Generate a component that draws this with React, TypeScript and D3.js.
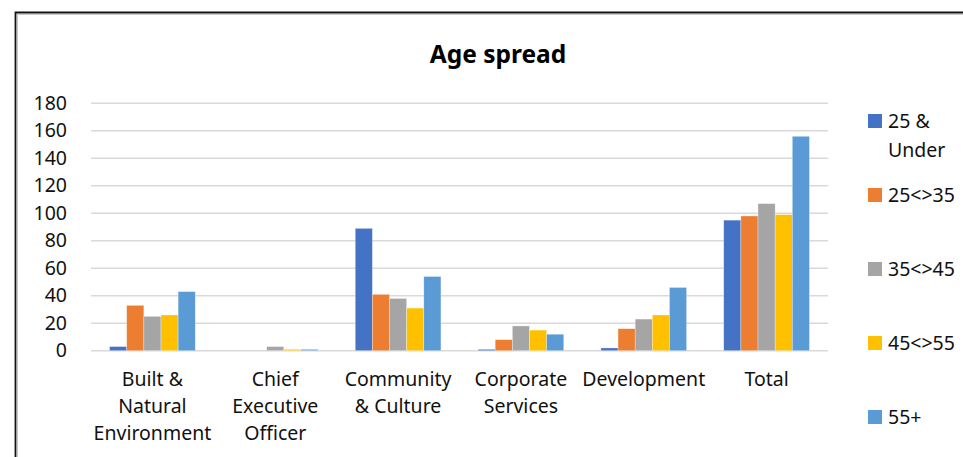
import React from "react";
import * as d3 from "d3";

const categories = [
  "Built & Natural Environment",
  "Chief Executive Officer",
  "Community & Culture",
  "Corporate Services",
  "Development",
  "Total",
];
const categoryLines = [
  ["Built &", "Natural", "Environment"],
  ["Chief", "Executive", "Officer"],
  ["Community", "& Culture"],
  ["Corporate", "Services"],
  ["Development"],
  ["Total"],
];
const seriesNames = ["25 & Under", "25<>35", "35<>45", "45<>55", "55+"];
const legendLines = [["25 &", "Under"], ["25<>35"], ["35<>45"], ["45<>55"], ["55+"]];
const s25Under = [3, 0, 89, 1, 2, 95];
const s25to35 = [33, 0, 41, 8, 16, 98];
const s35to45 = [25, 3, 38, 18, 23, 107];
const s45to55 = [26, 1, 31, 15, 26, 99];
const s55plus = [43, 1, 54, 12, 46, 156];
const seriesValues = [s25Under, s25to35, s35to45, s45to55, s55plus];
const colors = ["#4472C4", "#ED7D31", "#A5A5A5", "#FFC000", "#5B9BD5"];
const yTicks = [0, 20, 40, 60, 80, 100, 120, 140, 160, 180];

const W = 963;
const H = 457;
const FONT = "'Noto Sans', sans-serif";

export default function App() {
  const plotLeft = 91;
  const plotRight = 828;
  const plotTop = 103.3;
  const plotBottom = 350.7;

  const x0 = d3.scaleBand<string>().domain(categories).range([plotLeft, plotRight]).paddingInner(0).paddingOuter(0);
  const x1 = d3
    .scaleBand<string>()
    .domain(seriesNames)
    .range([0, x0.bandwidth()])
    .paddingInner(0)
    .paddingOuter(1.083);
  const y = d3.scaleLinear().domain([0, 180]).range([plotBottom, plotTop]);

  const legendY = (i: number) => 121 + i * 74;

  return (
    <svg
      width={W}
      height={H}
      style={{ position: "fixed", left: 0, top: 0, background: "#fff" }}
      fontFamily={FONT}
    >
      <rect x={0} y={0} width={W} height={H} fill="#fff" />
      {/* chart border */}
      <path d={`M15.5,${H + 5} V12.5 H${W + 5}`} fill="none" stroke="#111" strokeWidth={1.8} />
      <path d={`M17.5,${H + 5} V14.5 H${W + 5}`} fill="none" stroke="#c8c8c8" strokeWidth={1} />

      <text x={498} y={63} textAnchor="middle" fontSize={24.5} fontWeight="bold" fill="#000">
        Age spread
      </text>

      {yTicks.map((t) => (
        <g key={t}>
          <line x1={plotLeft} x2={plotRight} y1={y(t)} y2={y(t)} stroke="#d9d9d9" strokeWidth={1.5} />
          <text x={67} y={y(t) + 6.5} textAnchor="end" fontSize={19.5} fill="#111">
            {t}
          </text>
        </g>
      ))}

      {categories.map((c, ci) => (
        <g key={c} transform={`translate(${x0(c)},0)`}>
          {seriesNames.map((s, si) => {
            const v = seriesValues[si][ci];
            if (v <= 0) return null;
            return (
              <rect
                key={s}
                x={x1(s)}
                y={y(v)}
                width={x1.bandwidth()}
                height={y(0) - y(v)}
                fill={colors[si]}
                stroke="#fff"
                strokeOpacity={0.5}
                strokeWidth={0.6}
              />
            );
          })}
        </g>
      ))}

      {categories.map((c, ci) => (
        <text key={c} textAnchor="middle" fontSize={19.5} fill="#111">
          {categoryLines[ci].map((ln, li) => (
            <tspan key={li} x={(x0(c) as number) + x0.bandwidth() / 2} y={386 + li * 27}>
              {ln}
            </tspan>
          ))}
        </text>
      ))}

      {seriesNames.map((s, si) => (
        <g key={s}>
          <rect x={868} y={legendY(si) - 7} width={14} height={14} fill={colors[si]} />
          <text fontSize={19.5} fill="#111">
            {legendLines[si].map((ln, li) => (
              <tspan key={li} x={888} y={legendY(si) + 6.5 + li * 29}>
                {ln}
              </tspan>
            ))}
          </text>
        </g>
      ))}
    </svg>
  );
}
